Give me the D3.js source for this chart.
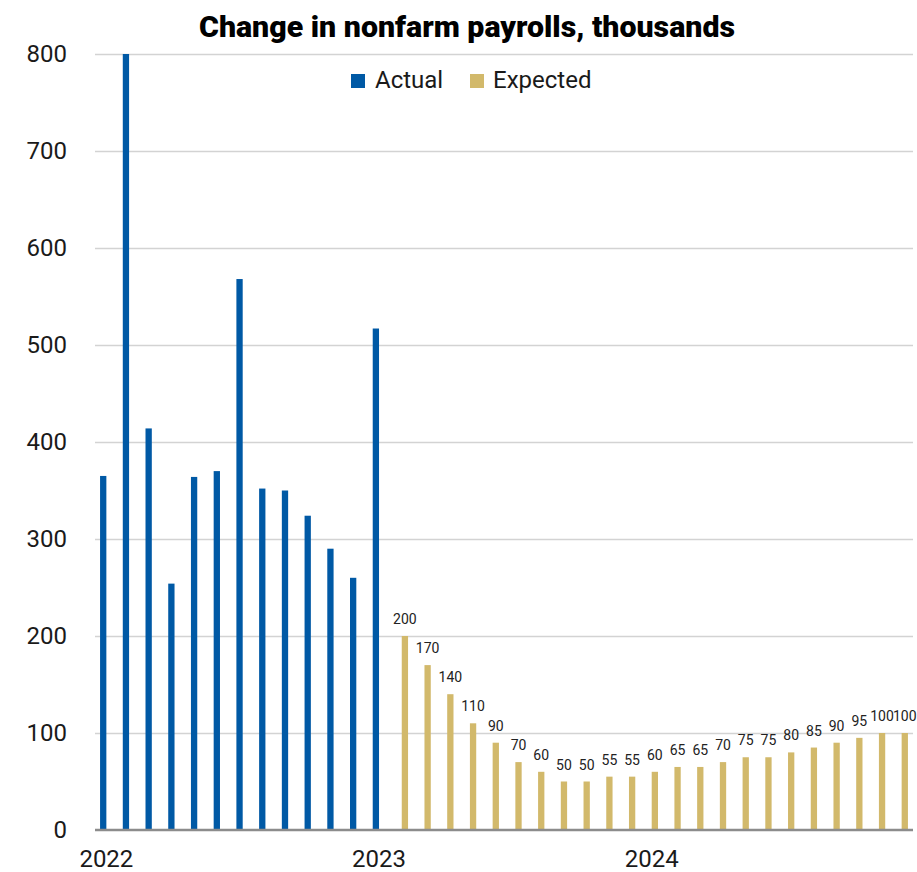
<!DOCTYPE html>
<html>
<head>
<meta charset="utf-8">
<script src="https://cdn.jsdelivr.net/npm/d3@7"></script>
<style>
  html, body { margin: 0; padding: 0; background: #ffffff; }
  svg { display: block; font-family: Roboto, "Noto Sans", sans-serif; }
</style>
</head>
<body>
<svg id="chart" width="917" height="872"></svg>
<script>
// ---- data ----
const months = d3.range(36).map(i => new Date(2022, i, 1));
const actualValues = [365, 800, 414, 254, 364, 370, 568, 352, 350, 324, 290, 260, 517];
const expectedValues = [200, 170, 140, 110, 90, 70, 60, 50, 50, 55, 55, 60, 65, 65, 70, 75, 75, 80, 85, 90, 95, 100, 100];
const yTicks = [0, 100, 200, 300, 400, 500, 600, 700, 800];
const yearLabels = ["2022", "2023", "2024"];
const seriesNames = ["Actual", "Expected"];
const titleText = "Change in nonfarm payrolls, thousands";

const actual = actualValues.map((v, i) => ({ i, v }));
const expected = expectedValues.map((v, k) => ({ i: k + actualValues.length, v }));

// ---- layout ----
const colors = { Actual: "#0059A5", Expected: "#D2B96B" };
const svg = d3.select("#chart");

const x = d3.scaleBand().domain(d3.range(36)).range([95, 913]).padding(0);
const y = d3.scaleLinear().domain([0, 800]).range([830, 54]);
const barW = 6.3;
const center = i => x(i) + x.bandwidth() / 2;

// gridlines via axis
const gridAxis = d3.axisLeft(y).tickValues(yTicks.filter(t => t > 0)).tickSize(-(913 - 95)).tickFormat("");
const grid = svg.append("g").attr("transform", "translate(95,0)").call(gridAxis);
grid.select(".domain").remove();
grid.selectAll("line").attr("stroke", "#D3D3D3").attr("stroke-width", 1.6);

// y tick labels
const yAxis = d3.axisLeft(y).tickValues(yTicks).tickSize(0).tickPadding(0).tickFormat(d3.format("d"));
const yg = svg.append("g").attr("transform", "translate(67,0)").call(yAxis);
yg.select(".domain").remove();
yg.selectAll("text")
  .attr("font-size", 24).attr("fill", "#1a1a1a")
  .attr("font-family", "Roboto, sans-serif");

// bars
svg.append("g").selectAll("rect").data(actual).join("rect")
  .attr("x", d => center(d.i) - barW)
  .attr("width", barW)
  .attr("y", d => y(Math.min(d.v, 800)))
  .attr("height", d => y(0) - y(Math.min(d.v, 800)))
  .attr("fill", colors.Actual);

svg.append("g").selectAll("rect").data(expected).join("rect")
  .attr("x", d => center(d.i))
  .attr("width", barW)
  .attr("y", d => y(d.v))
  .attr("height", d => y(0) - y(d.v))
  .attr("fill", colors.Expected);

// data labels for expected
svg.append("g").selectAll("text").data(expected).join("text")
  .attr("x", d => center(d.i) + barW / 2)
  .attr("y", d => y(d.v) - 12)
  .attr("text-anchor", "middle")
  .attr("font-size", 14)
  .attr("fill", "#222")
  .text(d => d.v);

// zero axis line
svg.append("line")
  .attr("x1", 95).attr("x2", 913)
  .attr("y1", y(0)).attr("y2", y(0))
  .attr("stroke", "#8C8C8C").attr("stroke-width", 2.6);

// x axis year labels (under January of each year)
const xAxis = d3.axisBottom(x)
  .tickValues([0, 12, 24])
  .tickSize(0).tickPadding(0)
  .tickFormat((d, k) => yearLabels[k]);
const xg = svg.append("g").call(xAxis);
xg.select(".domain").remove();
xg.selectAll("text")
  .attr("y", 867).attr("dy", null)
  .attr("font-size", 24).attr("fill", "#1a1a1a")
  .attr("font-family", "Roboto, sans-serif");

// title
const title = svg.append("text")
  .attr("x", 467).attr("y", 37)
  .attr("text-anchor", "middle")
  .attr("font-size", 30).attr("font-weight", 900)
  .attr("fill", "#000")
  .text(titleText);
const tl = title.node().getComputedTextLength();
if (Math.abs(tl - 536) > 4) title.attr("textLength", 536).attr("lengthAdjust", "spacingAndGlyphs");

// legend
const legend = svg.append("g");
const legendItems = [
  { name: seriesNames[0], sx: 351, tx: 375 },
  { name: seriesNames[1], sx: 470, tx: 493 }
];
legendItems.forEach(it => {
  legend.append("rect").attr("x", it.sx).attr("y", 74).attr("width", 14).attr("height", 14)
    .attr("fill", colors[it.name]);
  legend.append("text").attr("x", it.tx).attr("y", 88)
    .attr("font-size", 24).attr("fill", "#1a1a1a")
    .text(it.name);
});
</script>
</body>
</html>
